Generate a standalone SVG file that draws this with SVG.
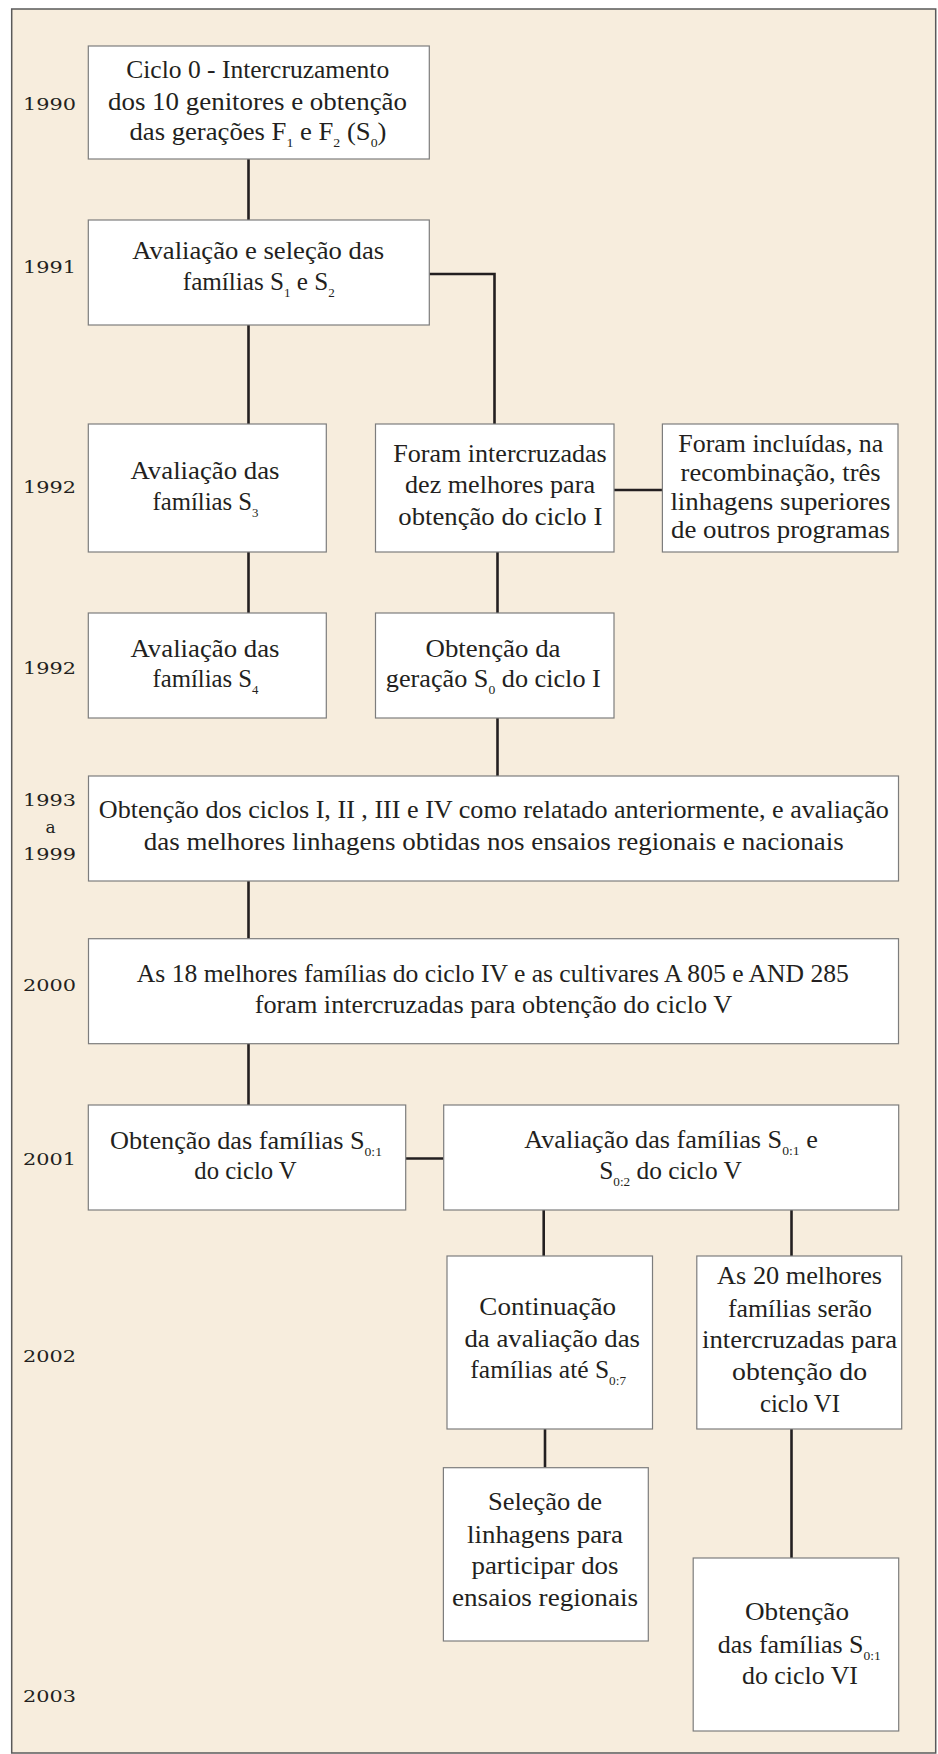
<svg xmlns="http://www.w3.org/2000/svg" width="938" height="1754" viewBox="0 0 938 1754">
<style>
.frame{fill:#f7eddd;stroke:#5a5a5a;stroke-width:1.5}
.box{fill:#ffffff;stroke:#7d7d7d;stroke-width:1.2}
.t{font-size:25px;fill:#231f20;text-anchor:middle}
.yr{font-size:17px;fill:#231f20;text-anchor:middle}
.sub{font-size:13px}
.con{stroke:#231f20;stroke-width:2.6;fill:none}
</style>
<rect x="0" y="0" width="938" height="1754" fill="#ffffff"/>
<rect class="frame" x="11.7" y="9" width="924" height="1744"/>

<g id="years" font-family="DejaVu Serif, Liberation Serif, serif">
<text class="yr" x="49.5" y="110" textLength="53" lengthAdjust="spacingAndGlyphs">1990</text>
<text class="yr" x="49.5" y="272.7" textLength="53" lengthAdjust="spacingAndGlyphs">1991</text>
<text class="yr" x="49.5" y="493.3" textLength="53" lengthAdjust="spacingAndGlyphs">1992</text>
<text class="yr" x="49.5" y="674" textLength="53" lengthAdjust="spacingAndGlyphs">1992</text>
<text class="yr" x="49.5" y="806" textLength="53" lengthAdjust="spacingAndGlyphs">1993</text>
<text class="yr" x="50.5" y="832.7">a</text>
<text class="yr" x="49.5" y="860" textLength="53" lengthAdjust="spacingAndGlyphs">1999</text>
<text class="yr" x="49.5" y="990.5" textLength="53" lengthAdjust="spacingAndGlyphs">2000</text>
<text class="yr" x="49.5" y="1165" textLength="53" lengthAdjust="spacingAndGlyphs">2001</text>
<text class="yr" x="49.5" y="1361.7" textLength="53" lengthAdjust="spacingAndGlyphs">2002</text>
<text class="yr" x="49.5" y="1701.7" textLength="53" lengthAdjust="spacingAndGlyphs">2003</text>
</g>

<g id="connectors">
<line class="con" x1="248.5" y1="159" x2="248.5" y2="220"/>
<line class="con" x1="248.5" y1="325" x2="248.5" y2="424"/>
<line class="con" x1="248.5" y1="552" x2="248.5" y2="613"/>
<polyline class="con" points="429,274 494.5,274 494.5,424" stroke-linecap="square"/>
<line class="con" x1="614" y1="490" x2="662.4" y2="490"/>
<line class="con" x1="497.5" y1="552" x2="497.5" y2="613"/>
<line class="con" x1="497.5" y1="718" x2="497.5" y2="776"/>
<line class="con" x1="248.5" y1="881" x2="248.5" y2="938.7"/>
<line class="con" x1="248.5" y1="1043.7" x2="248.5" y2="1105"/>
<line class="con" x1="405.7" y1="1158.5" x2="443.7" y2="1158.5"/>
<line class="con" x1="543.7" y1="1210" x2="543.7" y2="1256"/>
<line class="con" x1="791.5" y1="1210" x2="791.5" y2="1256"/>
<line class="con" x1="545" y1="1429" x2="545" y2="1467.7"/>
<line class="con" x1="791.5" y1="1429" x2="791.5" y2="1558"/>
</g>

<g id="nodes" font-family="Liberation Serif, Times New Roman, Times, serif">
<g id="n1">
<rect class="box" x="88.3" y="46" width="341" height="113"/>
<text class="t" x="257.7" y="77.7" textLength="263" lengthAdjust="spacingAndGlyphs">Ciclo 0 - Intercruzamento</text>
<text class="t" x="257.5" y="110" textLength="299" lengthAdjust="spacingAndGlyphs">dos 10 genitores e obtenção</text>
<text class="t" x="258" y="140" textLength="257" lengthAdjust="spacingAndGlyphs">das gerações F<tspan class="sub" dy="7">1</tspan><tspan dy="-7"> e F</tspan><tspan class="sub" dy="7">2</tspan><tspan dy="-7"> (S</tspan><tspan class="sub" dy="7">0</tspan><tspan dy="-7">)</tspan></text>
</g>

<g id="n2">
<rect class="box" x="88.3" y="220" width="341" height="105"/>
<text class="t" x="258.2" y="259.3" textLength="252" lengthAdjust="spacingAndGlyphs">Avaliação e seleção das</text>
<text class="t" x="258.8" y="290" textLength="152" lengthAdjust="spacingAndGlyphs">famílias S<tspan class="sub" dy="7">1</tspan><tspan dy="-7"> e S</tspan><tspan class="sub" dy="7">2</tspan></text>
</g>

<g id="n3">
<rect class="box" x="88.3" y="424" width="238" height="128"/>
<text class="t" x="205" y="479.3" textLength="149" lengthAdjust="spacingAndGlyphs">Avaliação das</text>
<text class="t" x="205.5" y="510" textLength="106" lengthAdjust="spacingAndGlyphs">famílias S<tspan class="sub" dy="7">3</tspan></text>
</g>

<g id="n4">
<rect class="box" x="88.3" y="613" width="238" height="105"/>
<text class="t" x="205" y="656.7" textLength="149" lengthAdjust="spacingAndGlyphs">Avaliação das</text>
<text class="t" x="205.5" y="687.3" textLength="106" lengthAdjust="spacingAndGlyphs">famílias S<tspan class="sub" dy="7">4</tspan></text>
</g>

<g id="n5">
<rect class="box" x="375.5" y="424" width="238.5" height="128"/>
<text class="t" x="500" y="461.7" textLength="213.5" lengthAdjust="spacingAndGlyphs">Foram intercruzadas</text>
<text class="t" x="500" y="493.3" textLength="190" lengthAdjust="spacingAndGlyphs">dez melhores para</text>
<text class="t" x="500.3" y="525" textLength="204" lengthAdjust="spacingAndGlyphs">obtenção do ciclo I</text>
</g>

<g id="n6">
<rect class="box" x="662.4" y="424" width="235.6" height="128"/>
<text class="t" x="780.8" y="451.7" textLength="205" lengthAdjust="spacingAndGlyphs">Foram incluídas, na</text>
<text class="t" x="780.6" y="480.7" textLength="200" lengthAdjust="spacingAndGlyphs">recombinação, três</text>
<text class="t" x="780.4" y="510" textLength="220" lengthAdjust="spacingAndGlyphs">linhagens superiores</text>
<text class="t" x="780.5" y="538.3" textLength="219" lengthAdjust="spacingAndGlyphs">de outros programas</text>
</g>

<g id="n7">
<rect class="box" x="375.5" y="613" width="238.5" height="105"/>
<text class="t" x="493" y="656.7" textLength="135" lengthAdjust="spacingAndGlyphs">Obtenção da</text>
<text class="t" x="493.3" y="687.3" textLength="215" lengthAdjust="spacingAndGlyphs">geração S<tspan class="sub" dy="7">0</tspan><tspan dy="-7"> do ciclo I</tspan></text>
</g>

<g id="n8">
<rect class="box" x="88.5" y="776" width="810" height="105"/>
<text class="t" x="493.8" y="818.3" textLength="790" lengthAdjust="spacingAndGlyphs">Obtenção dos ciclos I, II , III e IV como relatado anteriormente, e avaliação</text>
<text class="t" x="493.7" y="850" textLength="700" lengthAdjust="spacingAndGlyphs">das melhores linhagens obtidas nos ensaios regionais e nacionais</text>
</g>

<g id="n9">
<rect class="box" x="88.5" y="938.7" width="810" height="105"/>
<text class="t" x="492.8" y="981.7" textLength="712" lengthAdjust="spacingAndGlyphs">As 18 melhores famílias do ciclo IV e as cultivares A 805 e AND 285</text>
<text class="t" x="493.4" y="1013.3" textLength="477.5" lengthAdjust="spacingAndGlyphs">foram intercruzadas para obtenção do ciclo V</text>
</g>

<g id="n10">
<rect class="box" x="88.3" y="1105" width="317.4" height="105"/>
<text class="t" x="246" y="1149" textLength="272" lengthAdjust="spacingAndGlyphs">Obtenção das famílias S<tspan class="sub" dy="7">0:1</tspan></text>
<text class="t" x="245.5" y="1179.3" textLength="102.4" lengthAdjust="spacingAndGlyphs">do ciclo V</text>
</g>

<g id="n11">
<rect class="box" x="443.7" y="1105" width="455" height="105"/>
<text class="t" x="671" y="1148.3" textLength="293.6" lengthAdjust="spacingAndGlyphs">Avaliação das famílias S<tspan class="sub" dy="7">0:1</tspan><tspan dy="-7"> e</tspan></text>
<text class="t" x="670.5" y="1179.3" textLength="142.6" lengthAdjust="spacingAndGlyphs">S<tspan class="sub" dy="7">0:2</tspan><tspan dy="-7"> do ciclo V</tspan></text>
</g>

<g id="n12">
<rect class="box" x="447" y="1256" width="205.5" height="173"/>
<text class="t" x="547.7" y="1315" textLength="136.7" lengthAdjust="spacingAndGlyphs">Continuação</text>
<text class="t" x="552.2" y="1346.7" textLength="175.6" lengthAdjust="spacingAndGlyphs">da avaliação das</text>
<text class="t" x="548.2" y="1378.3" textLength="155.7" lengthAdjust="spacingAndGlyphs">famílias até S<tspan class="sub" dy="7">0:7</tspan></text>
</g>

<g id="n13">
<rect class="box" x="696.8" y="1256" width="204.9" height="173"/>
<text class="t" x="799.6" y="1284" textLength="165" lengthAdjust="spacingAndGlyphs">As 20 melhores</text>
<text class="t" x="799.9" y="1316.7" textLength="144" lengthAdjust="spacingAndGlyphs">famílias serão</text>
<text class="t" x="799.6" y="1348.3" textLength="195" lengthAdjust="spacingAndGlyphs">intercruzadas para</text>
<text class="t" x="799.6" y="1380" textLength="135" lengthAdjust="spacingAndGlyphs">obtenção do</text>
<text class="t" x="799.9" y="1411.7" textLength="80" lengthAdjust="spacingAndGlyphs">ciclo VI</text>
</g>

<g id="n14">
<rect class="box" x="443.4" y="1467.7" width="204.9" height="173.3"/>
<text class="t" x="545" y="1510" textLength="114" lengthAdjust="spacingAndGlyphs">Seleção de</text>
<text class="t" x="545" y="1542.7" textLength="156" lengthAdjust="spacingAndGlyphs">linhagens para</text>
<text class="t" x="545" y="1574" textLength="147" lengthAdjust="spacingAndGlyphs">participar dos</text>
<text class="t" x="545" y="1606" textLength="186" lengthAdjust="spacingAndGlyphs">ensaios regionais</text>
</g>

<g id="n15">
<rect class="box" x="693.2" y="1558" width="205.5" height="173"/>
<text class="t" x="797" y="1620" textLength="104" lengthAdjust="spacingAndGlyphs">Obtenção</text>
<text class="t" x="799.3" y="1653.3" textLength="163" lengthAdjust="spacingAndGlyphs">das famílias S<tspan class="sub" dy="7">0:1</tspan></text>
<text class="t" x="800" y="1684.3" textLength="116" lengthAdjust="spacingAndGlyphs">do ciclo VI</text>
</g>
</g>
</svg>
